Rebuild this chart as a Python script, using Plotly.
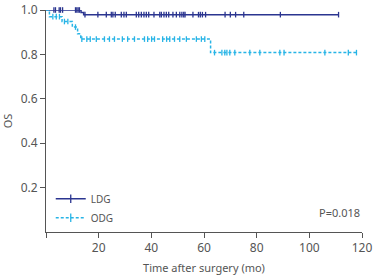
import numpy as np
import plotly.graph_objects as go

# LDG step function
ldg_times = [0, 13.3, 14.3]
ldg_surv = [1.0, 0.989, 0.979]
ldg_end = 111.1
ldg_cens = [3.0, 3.6, 5.0, 5.5, 6.3, 11.2, 11.7, 12.2, 12.7, 14.8, 19.7, 22.9, 24.8, 25.4, 26.3,
            28.6, 29.6, 30.5, 34.3, 35.2, 36.2, 37.2, 38.1, 39.0, 41.0, 43.2, 43.8, 44.8,
            45.7, 46.6, 48.2, 49.5, 50.8, 51.6, 52.3, 52.8, 55.8, 57.9, 58.6, 59.4, 60.6,
            68.0, 70.0, 72.0, 75.1, 89.0, 111.1]

# ODG step function
odg_times = [0, 1.3, 6.1, 10.0, 12.0, 13.2, 62.5]
odg_surv = [1.0, 0.970, 0.948, 0.923, 0.893, 0.869, 0.808]
odg_end = 117.9
odg_cens = [2.6, 3.9, 5.1, 7.0, 8.3, 11.2, 13.6, 15.5, 16.8, 19.1, 22.2, 24.1, 26.0, 29.0, 31.0,
            33.6, 37.4, 38.6, 40.1, 41.2, 44.3, 45.8, 47.0, 48.8, 50.8, 53.3, 57.1, 59.0, 60.3,
            64.0, 66.8, 67.9, 68.7, 69.8, 71.7, 77.4, 81.2, 88.8, 90.4, 105.9, 114.8, 117.9]

x_ticks = [0, 20, 40, 60, 80, 100, 120]
x_ticktext = ["", "20", "40", "60", "80", "100", "120"]
y_ticks = [0.2, 0.4, 0.6, 0.8, 1.0]
y_ticktext = ["0.2", "0.4", "0.6", "0.8", "1.0"]

LDG_C = "#2b3590"
ODG_C = "#27b4e6"
TXT = "#555"


def step_xy(times, surv, end):
    return list(times) + [end], list(surv) + [surv[-1]]


def surv_at(times, surv, t):
    idx = np.searchsorted(np.array(times), np.array(t), side="right") - 1
    return np.array(surv)[idx]


fig = go.Figure()
for name, times, surv, end, cens, col, dash in [
    ("LDG", ldg_times, ldg_surv, ldg_end, ldg_cens, LDG_C, "solid"),
    ("ODG", odg_times, odg_surv, odg_end, odg_cens, ODG_C, "3px,2px"),
]:
    lx, ly = step_xy(times, surv, end)
    fig.add_trace(go.Scatter(
        x=lx, y=ly, mode="lines", line=dict(color=col, width=1.5, shape="hv", dash=dash),
        showlegend=False, cliponaxis=False, hoverinfo="skip"))
    fig.add_trace(go.Scatter(
        x=cens, y=surv_at(times, surv, cens), mode="markers",
        marker=dict(symbol="line-ns", size=4, line=dict(color=col, width=1.3)),
        showlegend=False, cliponaxis=False))
    # legend entry
    fig.add_trace(go.Scatter(
        x=[None], y=[None], mode="lines+markers", name=name,
        line=dict(color=col, width=1.5, dash=dash),
        marker=dict(symbol="line-ns", size=6, line=dict(color=col, width=1.3))))

font = "Noto Sans, Arial, sans-serif"
fig.update_layout(
    width=378, height=275,
    margin=dict(l=46, r=16, t=10, b=43),
    paper_bgcolor="white", plot_bgcolor="white",
    font=dict(family=font, size=12, color=TXT),
    legend=dict(x=0.015, y=0.215, xanchor="left", yanchor="top",
                bgcolor="rgba(0,0,0,0)", font=dict(size=10, color=TXT),
                itemwidth=30, tracegroupgap=0),
    xaxis=dict(range=[0, 120], tickvals=x_ticks, ticktext=x_ticktext, automargin=False,
               showgrid=False, zeroline=False, showline=True, linecolor="#555",
               linewidth=1, ticks="outside", ticklen=5, tickcolor="#555",
               tickfont=dict(size=12, color=TXT),
               title=dict(text="Time after surgery (mo)", font=dict(size=11, color=TXT),
                          standoff=10)),
    yaxis=dict(range=[0, 1.0], tickvals=y_ticks, ticktext=y_ticktext, automargin=False,
               showgrid=False, zeroline=False, showline=True, linecolor="#555",
               linewidth=1, ticks="outside", ticklen=5, tickcolor="#555",
               tickfont=dict(size=12, color=TXT),
               title=dict(text="OS", font=dict(size=11, color=TXT), standoff=8)),
    annotations=[
        dict(x=-4.5, y=0, xref="x", yref="y", text="0", showarrow=False,
             xanchor="center", yanchor="top", yshift=-7, font=dict(size=12, color=TXT)),
        dict(x=120, y=0.09, xref="x", yref="y", text="P=0.018", showarrow=False,
             xanchor="right", yanchor="middle", font=dict(size=11, color=TXT)),
    ],
)

fig.write_html("out.html")
